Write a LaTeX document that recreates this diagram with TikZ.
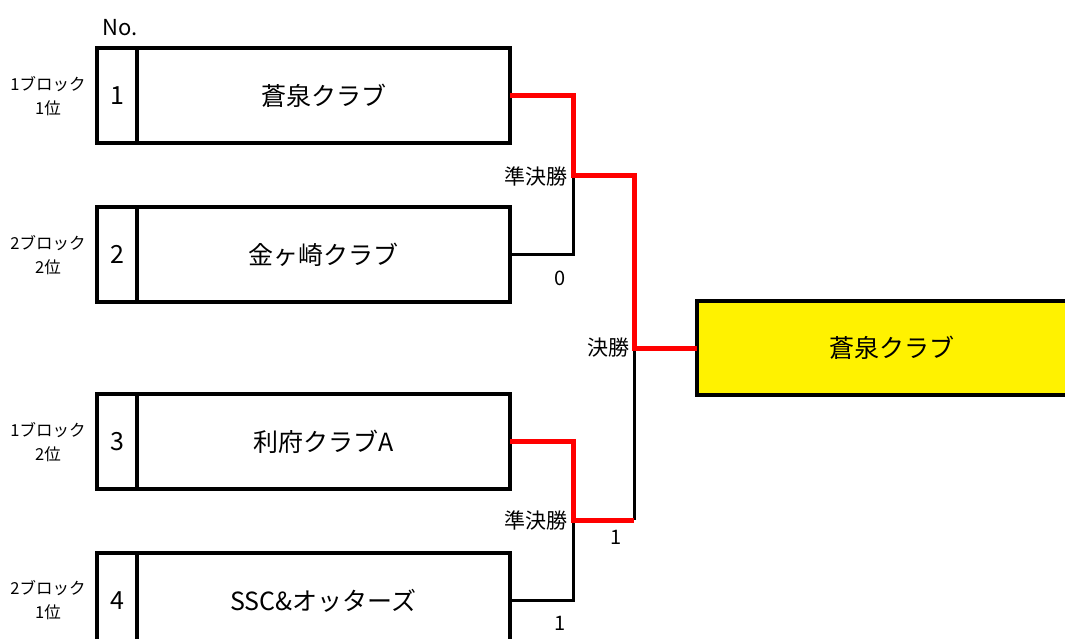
\documentclass[tikz,border=0pt]{standalone}
\usepackage{fontspec}
\setmainfont{Noto Sans CJK JP}
\begin{document}
\begin{tikzpicture}[x=1pt,y=-1pt,
  numbox/.style={draw=black,line width=3.5pt,minimum width=40pt,minimum height=95pt,inner sep=0pt,outer sep=0pt,anchor=north west,font=\fontsize{25}{27}\selectfont},
  teambox/.style={draw=black,line width=3.5pt,minimum width=373pt,minimum height=95pt,inner sep=0pt,outer sep=0pt,anchor=north west,font=\fontsize{25}{28}\selectfont},
  champbox/.style={draw=black,fill=yellow,line width=3.5pt,minimum width=390pt,minimum height=94pt,inner sep=0pt,outer sep=0pt,anchor=north west},
  blocklbl/.style={align=center,font=\fontsize{16.5}{24}\selectfont,inner sep=0pt},
  roundlbl/.style={anchor=east,font=\fontsize{21}{22}\selectfont,inner sep=1pt},
  scorelbl/.style={font=\fontsize{20}{22}\selectfont,inner sep=0pt},
  winline/.style={draw=red,line width=5pt},
  loseline/.style={draw=black,line width=3pt}]
\useasboundingbox (0,0) rectangle (1065,639);
\fill[white] (0,0) rectangle (1065,639);

\node[font=\fontsize{22}{24}\selectfont] (no) at (120,28) {No.};

\node[numbox] (n1) at (97,48) {1};
\node[teambox] (t1) at (137,48) {蒼泉クラブ};
\node[numbox] (n2) at (97,207) {2};
\node[teambox] (t2) at (137,207) {金ヶ崎クラブ};
\node[numbox] (n3) at (97,394) {3};
\node[teambox] (t3) at (137,394) {利府クラブA};
\node[numbox] (n4) at (97,553) {4};
\node[teambox] (t4) at (137,553) {SSC\&オッターズ};

\node[blocklbl] (b1) at (48,96) {1ブロック\\1位};
\node[blocklbl] (b2) at (48,255) {2ブロック\\2位};
\node[blocklbl] (b3) at (48,442) {1ブロック\\2位};
\node[blocklbl] (b4) at (48,600) {2ブロック\\1位};

\node[champbox,font=\fontsize{25}{28}\selectfont] (ch) at (697,301) {蒼泉クラブ};

\coordinate (s1) at (573,176);
\coordinate (s2) at (573,520);
\coordinate (f) at (634,348);

% losing paths
\draw[loseline] (t2.east) -| (s1);
\draw[loseline] (t4.east) -| (s2);
\draw[loseline] (s2 -| f) -- (f);
% winning paths
\draw[winline] (t1.east) -| (s1) -| (f) -- (f -| ch.west);
\draw[winline] (t3.east) -| (s2) -- (s2 -| f);

\node[roundlbl] (r1) at (569,176) {準決勝};
\node[roundlbl] (r2) at (631,348) {決勝};
\node[roundlbl] (r3) at (569,520) {準決勝};

\node[scorelbl] (sc1) at (560,278) {0};
\node[scorelbl] (sc2) at (616,537) {1};
\node[scorelbl] (sc3) at (560,623) {1};
\end{tikzpicture}
\end{document}
